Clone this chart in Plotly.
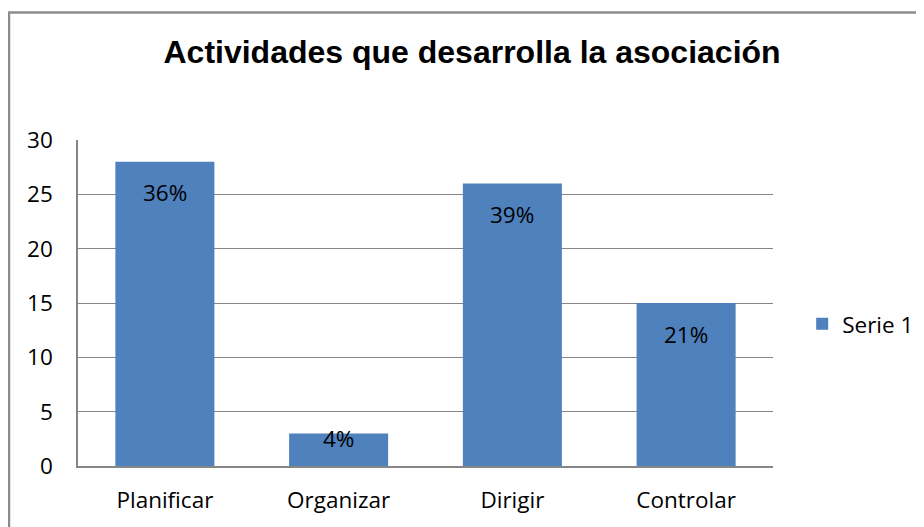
import plotly.graph_objects as go

categories = ["Planificar", "Organizar", "Dirigir", "Controlar"]
values = [28, 3, 26, 15]
labels = ["36%", "4%", "39%", "21%"]
series_name = "Serie 1"
y_ticks = [0, 5, 10, 15, 20, 25, 30]

BAR_COLOR = "#4F81BD"
GRID = "#868686"
FONT = "'Open Sans', sans-serif"
FS = 22.5

fig = go.Figure()
fig.add_trace(go.Bar(
    x=categories, y=values, name=series_name,
    marker=dict(color=BAR_COLOR, line=dict(width=0)),
    width=0.57,
))

for c, v, t in zip(categories, values, labels):
    fig.add_annotation(
        x=c, y=v, text=t, showarrow=False,
        yanchor="middle", yshift=(-31 if v > 5 else -5),
        font=dict(family=FONT, size=FS, color="black"),
    )

# outer chart border (page body has an 8px margin, figure is offset accordingly)
fig.add_shape(type="rect", xref="paper", yref="paper",
              x0=-0.0993, x1=1.4, y0=-0.3, y1=1.391,
              line=dict(color="#8c8c8c", width=2.5), layer="below")

fig.update_layout(
    width=916, height=519,
    margin=dict(l=70, r=151, t=132, b=61, autoexpand=False),
    paper_bgcolor="white", plot_bgcolor="white",
    title=dict(text="<b>Actividades que desarrolla la asociación</b>",
               x=0.5066, xanchor="center", y=0.915, yanchor="middle",
               font=dict(family="'Liberation Sans', Arial, sans-serif", size=32, color="black")),
    showlegend=True,
    legend=dict(x=1.042, y=0.435, xanchor="left", yanchor="middle",
                font=dict(family=FONT, size=FS, color="black"),
                itemwidth=30, bgcolor="rgba(0,0,0,0)"),
    bargap=0.43,
)
fig.update_xaxes(
    showline=True, linecolor=GRID, linewidth=1.5,
    tickfont=dict(family=FONT, size=FS, color="black"),
    ticklabelstandoff=13, ticks="",
)
fig.update_yaxes(
    range=[0, 30], tickvals=y_ticks,
    showline=True, linecolor=GRID, linewidth=1.5,
    showgrid=True, gridcolor=GRID, gridwidth=1,
    zeroline=False,
    tickfont=dict(family=FONT, size=FS, color="black"),
    ticklabelstandoff=19, ticks="",
)

fig.write_html("out.html")
